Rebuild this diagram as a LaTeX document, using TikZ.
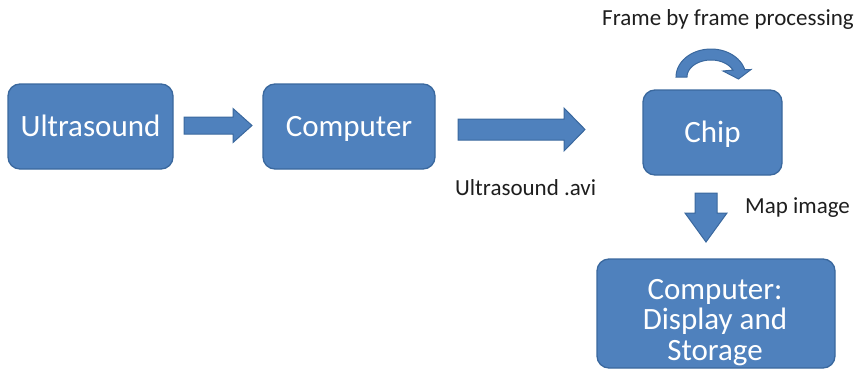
\documentclass[tikz,border=0pt]{standalone}
\usepackage{fontspec}
\setmainfont{Carlito}
\usetikzlibrary{calc}

\definecolor{boxfill}{HTML}{4F81BD}
\definecolor{boxline}{HTML}{3A689E}
\definecolor{labeltext}{HTML}{1E1E1E}

\tikzset{
  blockbox/.style={draw=boxline, line width=1.3pt, fill=boxfill, rounded corners=12pt,
    text=white, font=\fontsize{31}{31}\selectfont, inner sep=0pt,
    text height=19.5pt, text depth=0pt},
  boxtext/.style={text=white, font=\fontsize{31}{30.5}\selectfont, inner sep=0pt, align=center},
  caption/.style={text=labeltext, font=\fontsize{23}{26}\selectfont, inner sep=0pt},
  blockarrow/.style={fill=boxfill, draw=boxline, line width=1pt, line join=miter},
}

% horizontal block arrow: tail, tip, half shaft width, half head width, head length
\newcommand\hblock[5]{%
  \path[blockarrow] let \p1=(#1), \p2=(#2) in
    (\x1,\y1+#3) -- (\x2-#5,\y1+#3) -- (\x2-#5,\y1+#4) -- (\x2,\y1)
    -- (\x2-#5,\y1-#4) -- (\x2-#5,\y1-#3) -- (\x1,\y1-#3) -- cycle;}
% vertical (downward) block arrow: tail, tip, half shaft width, half head width, head length
\newcommand\vblock[5]{%
  \path[blockarrow] let \p1=(#1), \p2=(#2) in
    (\x1-#3,\y1) -- (\x1-#3,\y2+#5) -- (\x1-#4,\y2+#5) -- (\x1,\y2)
    -- (\x1+#4,\y2+#5) -- (\x1+#3,\y2+#5) -- (\x1+#3,\y1) -- cycle;}

\begin{document}
\begin{tikzpicture}[x=1pt, y=-1pt]
  \useasboundingbox (0,0) rectangle (863,370);

  % processing stages
  \node[blockbox, minimum width=165pt, minimum height=85pt] (us)   at (90.5,126.5) {Ultrasound};
  \node[blockbox, minimum width=172pt, minimum height=85pt] (comp) at (349,126.5) {Computer};
  \node[blockbox, minimum width=139pt, minimum height=85pt] (chip) at (712.5,132.5) {Chip};
  \node[blockbox, minimum width=238pt, minimum height=109pt] (out) at (716,313.5) {};
  % three-line caption of the output stage; base anchor sits on the last line
  \node[boxtext, anchor=base] (outtext) at (715,360) {Computer:\\Display and\\Storage};

  % arrow end points
  \coordinate (a1s) at (184,125.5);  \coordinate (a1e) at (252,125.5);
  \coordinate (a2s) at (458,129.5);  \coordinate (a2e) at (585,129.5);
  \coordinate (a3s) at (706,193);    \coordinate (a3e) at (706,242);

  \hblock{a1s}{a1e}{8.5pt}{17pt}{19pt}
  \hblock{a2s}{a2e}{10.5pt}{21.5pt}{21pt}
  \vblock{a3s}{a3e}{11pt}{21pt}{29pt}

  % loop arrow above the chip
  \path[blockarrow]
    plot[domain=180:15, samples=40] ({711+35*cos(\x)}, {77-28*sin(\x)})
    -- (751,69.5) -- (738.5,79) -- (723,71)
    -- plot[domain=24:180, samples=40] ({711+24*cos(\x)}, {77-17*sin(\x)})
    -- cycle;

  % labels
  \node[caption, anchor=base] (lframe) at (728,25) {Frame by frame processing};
  \node[caption, anchor=base west] (lavi) at (455,195) {Ultrasound .avi};
  \node[caption, anchor=base west] (lmap) at (745,213) {Map image};
\end{tikzpicture}
\end{document}
